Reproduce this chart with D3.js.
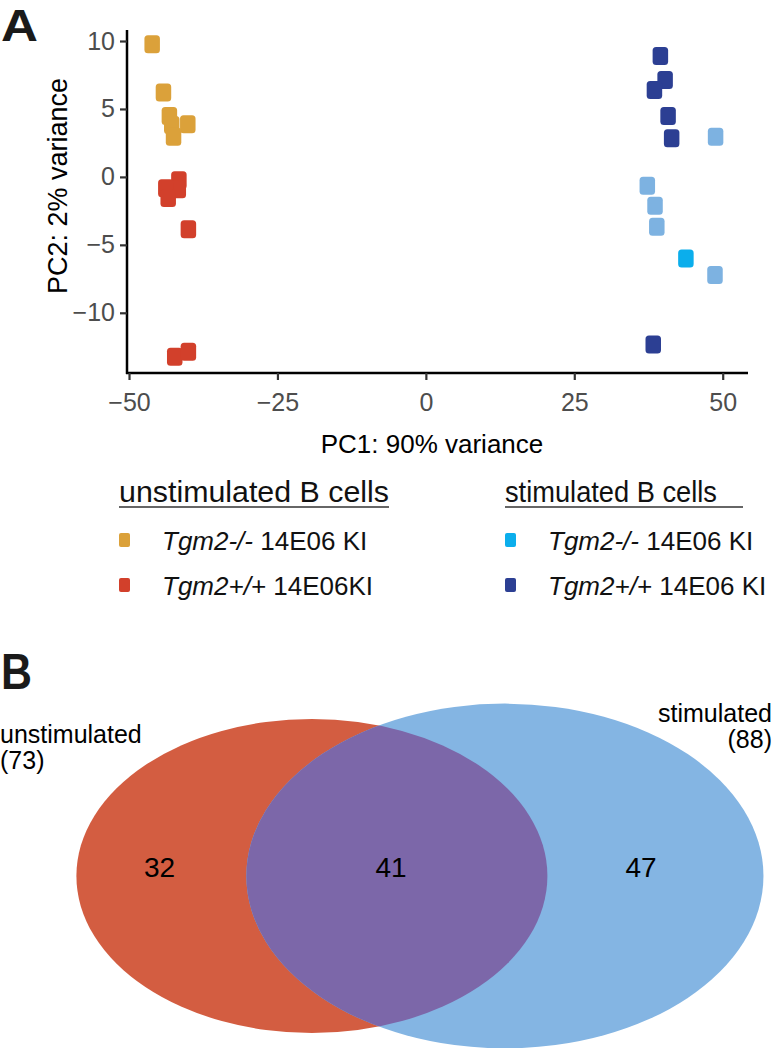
<!DOCTYPE html>
<html><head><meta charset="utf-8">
<script src="https://cdn.jsdelivr.net/npm/d3@7"></script>
<style>body{margin:0;background:#fff}svg{display:block}</style>
</head><body>
<script>
// ---- data ----
const unstimKO_pc1 = [-46.1, -44.2, -43.2, -42.8, -40.1, -42.5];
const unstimKO_pc2 = [9.76, 6.22, 4.48, 3.82, 3.87, 2.96];
const unstimWT_pc1 = [-41.6, -41.7, -43.8, -43.4, -40.0, -42.3, -40.0];
const unstimWT_pc2 = [-0.25, -0.9, -0.84, -1.56, -3.86, -13.24, -12.87];
const stimWT_pc1 = [39.5, 40.3, 38.5, 40.8, 41.4, 38.3];
const stimWT_pc2 = [8.89, 7.13, 6.39, 4.48, 2.84, -12.33];
const stimKOlight_pc1 = [48.8, 37.3, 38.6, 38.9, 48.7];
const stimKOlight_pc2 = [2.96, -0.65, -2.12, -3.67, -7.22];
const stimKO_pc1 = [43.8];
const stimKO_pc2 = [-6.0];
const xTicks = [-50, -25, 0, 25, 50];
const yTicks = [-10, -5, 0, 5, 10];
const legendHeaders = ["unstimulated B cells", "stimulated B cells"];
const legendLabels = [["Tgm2-/-", " 14E06 KI"], ["Tgm2+/+", " 14E06KI"], ["Tgm2-/-", " 14E06 KI"], ["Tgm2+/+", " 14E06 KI"]];
const vennNames = ["unstimulated", "stimulated"];
const vennTotals = [73, 88];
const vennRegionCounts = [32, 41, 47];

const colors = {unstimKO:"#DBA13A", unstimWT:"#D2402B", stimKO:"#0BAEEC", stimKOlight:"#7DB2E1", stimWT:"#2C3F93"};

const W = 773, H = 1048;
const svg = d3.select("body").append("svg").attr("width", W).attr("height", H)
  .style("font-family", "'Liberation Sans', Arial, sans-serif");

// ---- Panel A ----
const plot = {left:127, right:748, top:30, bottom:373};
const x = d3.scaleLinear().domain([-50.34, 54.26]).range([plot.left, plot.right]);
const y = d3.scaleLinear().domain([-14.43, 10.81]).range([plot.bottom, plot.top]);

svg.append("text").text("A").attr("x", 1).attr("y", 41)
  .attr("font-size", 44).attr("font-weight", "bold").attr("fill", "#1a1a1a")
  .attr("textLength", 37).attr("lengthAdjust", "spacingAndGlyphs");

const fmt = d => d < 0 ? "\u2212" + Math.abs(d) : d;
const xAx = svg.append("g").attr("transform", `translate(0,${plot.bottom})`)
  .call(d3.axisBottom(x).tickValues(xTicks).tickSize(7).tickPadding(13).tickFormat(fmt));
const yAx = svg.append("g").attr("transform", `translate(${plot.left},0)`)
  .call(d3.axisLeft(y).tickValues(yTicks).tickSize(7).tickPadding(5).tickFormat(fmt));
[xAx, yAx].forEach(g => {
  g.select(".domain").attr("stroke", "#000").attr("stroke-width", 2.5);
  g.selectAll(".tick line").attr("stroke", "#333").attr("stroke-width", 2.2);
  g.selectAll(".tick text").attr("fill", "#4d4d4d").attr("font-size", 25)
   .attr("font-family", "'Liberation Sans', Arial, sans-serif");
});
xAx.select(".domain").attr("d", `M${plot.left - 1},0H${plot.right}`);
yAx.select(".domain").attr("d", `M0,${plot.top}V${plot.bottom + 1}`);

svg.append("text").text("PC1: 90% variance").attr("x", 432).attr("y", 453)
  .attr("text-anchor", "middle").attr("font-size", 26).attr("fill", "#000");
svg.append("text").text("PC2: 2% variance").attr("transform", "translate(67,186) rotate(-90)")
  .attr("text-anchor", "middle").attr("font-size", 27).attr("fill", "#000");

const series = [
  ["unstimKO", unstimKO_pc1, unstimKO_pc2],
  ["unstimWT", unstimWT_pc1, unstimWT_pc2],
  ["stimKOlight", stimKOlight_pc1, stimKOlight_pc2],
  ["stimKO", stimKO_pc1, stimKO_pc2],
  ["stimWT", stimWT_pc1, stimWT_pc2]
];
const pts = [];
series.forEach(([k, xs, ys]) => xs.forEach((v, i) => pts.push({k, pc1: v, pc2: ys[i]})));
const pw = 15.5, ph = 18;
svg.append("g").selectAll("rect").data(pts).join("rect")
  .attr("x", d => x(d.pc1) - pw / 2).attr("y", d => y(d.pc2) - ph / 2)
  .attr("width", pw).attr("height", ph).attr("rx", 3.5)
  .attr("fill", d => colors[d.k]);

// Legend
const legCols = [119, 505];
const legTextX = [162, 548];
const legKeys = [["unstimKO", "unstimWT"], ["stimKO", "stimWT"]];
const underlineEnd = [389, 743];
const headerLen = [270, 212];
legCols.forEach((cx, c) => {
  svg.append("text").text(legendHeaders[c]).attr("x", cx).attr("y", 502)
    .attr("font-size", 30).attr("fill", "#111")
    .attr("textLength", headerLen[c]).attr("lengthAdjust", "spacingAndGlyphs");
  svg.append("line").attr("x1", cx).attr("x2", underlineEnd[c]).attr("y1", 507).attr("y2", 507)
    .attr("stroke", "#333").attr("stroke-width", 1.6);
  legKeys[c].forEach((k, r) => {
    const cy = 540 + r * 45;
    svg.append("rect").attr("x", cx).attr("y", cy - 7).attr("width", 11).attr("height", 14)
      .attr("rx", 2).attr("fill", colors[k]);
    const t = svg.append("text").attr("x", legTextX[c]).attr("y", cy + 10)
      .attr("font-size", 26).attr("fill", "#111");
    const lab = legendLabels[c * 2 + r];
    t.append("tspan").attr("font-style", "italic").text(lab[0]);
    t.append("tspan").text(lab[1]);
  });
});

// ---- Panel B ----
svg.append("text").text("B").attr("x", 1).attr("y", 689)
  .attr("font-size", 50).attr("font-weight", "bold").attr("fill", "#1a1a1a")
  .attr("textLength", 31).attr("lengthAdjust", "spacingAndGlyphs");

const rScale = d3.scaleSqrt().domain([0, 73]).range([0, 235.5]);
const aspect = 1.5;
const vennCx = [311.9, 504.9], vennCy = 876;
const vennFill = ["#D35D41", "#84B5E3"];
const defs = svg.append("defs");
defs.append("clipPath").attr("id", "clipStim").append("ellipse")
  .attr("cx", vennCx[1]).attr("cy", vennCy).attr("rx", rScale(vennTotals[1])).attr("ry", rScale(vennTotals[1]) / aspect);
vennTotals.forEach((t, i) => {
  svg.append("ellipse").attr("cx", vennCx[i]).attr("cy", vennCy)
    .attr("rx", rScale(t)).attr("ry", rScale(t) / aspect).attr("fill", vennFill[i]);
});
svg.append("ellipse").attr("clip-path", "url(#clipStim)")
  .attr("cx", vennCx[0]).attr("cy", vennCy).attr("rx", rScale(vennTotals[0])).attr("ry", rScale(vennTotals[0]) / aspect)
  .attr("fill", "#7C67A9");

const regionX = [159.5, 391, 641];
vennRegionCounts.forEach((v, i) => {
  svg.append("text").text(v).attr("x", regionX[i]).attr("y", 877)
    .attr("text-anchor", "middle").attr("font-size", 28).attr("fill", "#000");
});
const lab0 = svg.append("text").attr("font-size", 25).attr("fill", "#000");
lab0.append("tspan").attr("x", 0).attr("y", 743).text(vennNames[0]);
lab0.append("tspan").attr("x", 0).attr("y", 769).text(`(${vennTotals[0]})`);
const lab1 = svg.append("text").attr("font-size", 25).attr("fill", "#000").attr("text-anchor", "end");
lab1.append("tspan").attr("x", 772).attr("y", 722).text(vennNames[1]);
lab1.append("tspan").attr("x", 772).attr("y", 748).text(`(${vennTotals[1]})`);
</script>
</body></html>
